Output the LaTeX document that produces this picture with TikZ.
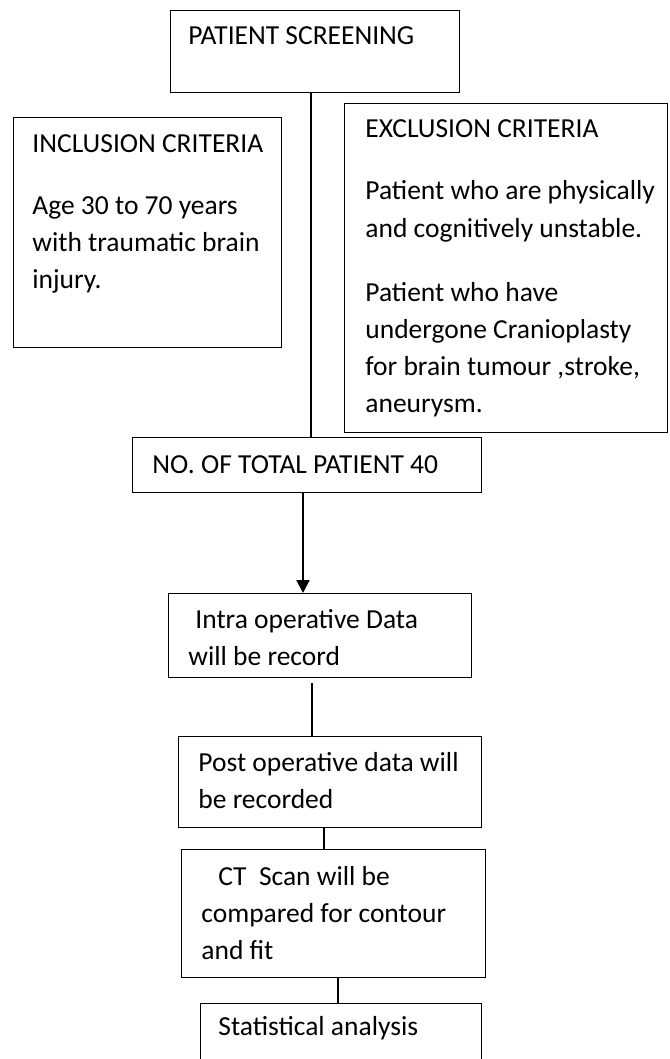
\documentclass[tikz,border=0pt]{standalone}
\usepackage{fontspec}
\setmainfont{Carlito}
\usetikzlibrary{arrows.meta}

\begin{document}
\begin{tikzpicture}[x=0.5pt,y=-0.5pt,
  box/.style={draw,line width=0.7pt,inner sep=0pt,anchor=north west},
  txt/.style={inner sep=0pt,anchor=base west,align=left,font=\fontsize{13.75pt}{18.5pt}\selectfont},
  link/.style={line width=1pt},
  flow/.style={line width=1pt,-{Triangle[width=6.5pt,length=6.5pt]}}]
\useasboundingbox (0,0) rectangle (669,1059);
            % Boxes
\node[box,minimum width=144.5pt,minimum height=41pt] (screen) at (170,10) {};
\node[box,minimum width=134pt,minimum height=115pt] (incl) at (13,117) {};
\node[box,minimum width=161.5pt,minimum height=164.5pt] (excl) at (344,103) {};
\node[box,minimum width=174.5pt,minimum height=27.5pt] (total) at (132,437) {};
\node[box,minimum width=151.5pt,minimum height=42pt] (intra) at (168,593) {};
\node[box,minimum width=151.5pt,minimum height=45.5pt] (post) at (178,736) {};
\node[box,minimum width=152pt,minimum height=64pt] (ct) at (181,849) {};
\node[box,minimum width=140.5pt,minimum height=40pt] (stat) at (200,1003) {};
            % Texts (base = last line)
\node[txt] (screenT) at (188,45) {PATIENT SCREENING};
\node[txt] (inclT) at (32,153) {INCLUSION CRITERIA};
\node[txt] (inclA) at (32,288) {Age 30 to 70 years\\with traumatic brain\\injury.};
\node[txt] (exclT) at (365,138) {EXCLUSION CRITERIA};
\node[txt] (exclA) at (365,237) {Patient who are physically\\and cognitively unstable.};
\node[txt] (exclB) at (365,412) {Patient who have\\undergone Cranioplasty\\for brain tumour ,stroke,\\aneurysm.};
\node[txt] (totalT) at (152,473) {NO. OF TOTAL PATIENT 40};
\node[txt] (intraT) at (188,665) {\hspace{3.5pt}Intra operative Data\\will be record};
\node[txt] (postT) at (198,808) {Post operative data will\\be recorded};
\node[txt] (ctT) at (201,959) {\hspace{8.5pt}CT\ \ Scan will be\\compared for contour\\and fit};
\node[txt] (statT) at (218,1035) {Statistical analysis};
            % Connections
\draw[link] (screen.south -| 311,0) -- (total.north -| 311,0);
\draw[flow] (total.south -| 303,0) -- (intra.north -| 303,0);
\draw[link,shorten <=2.5pt] (intra.south -| 312,0) -- (post.north -| 312,0);
\draw[link] (post.south -| 324,0) -- (ct.north -| 324,0);
\draw[link] (ct.south -| 338,0) -- (stat.north -| 338,0);
\end{tikzpicture}
\end{document}
